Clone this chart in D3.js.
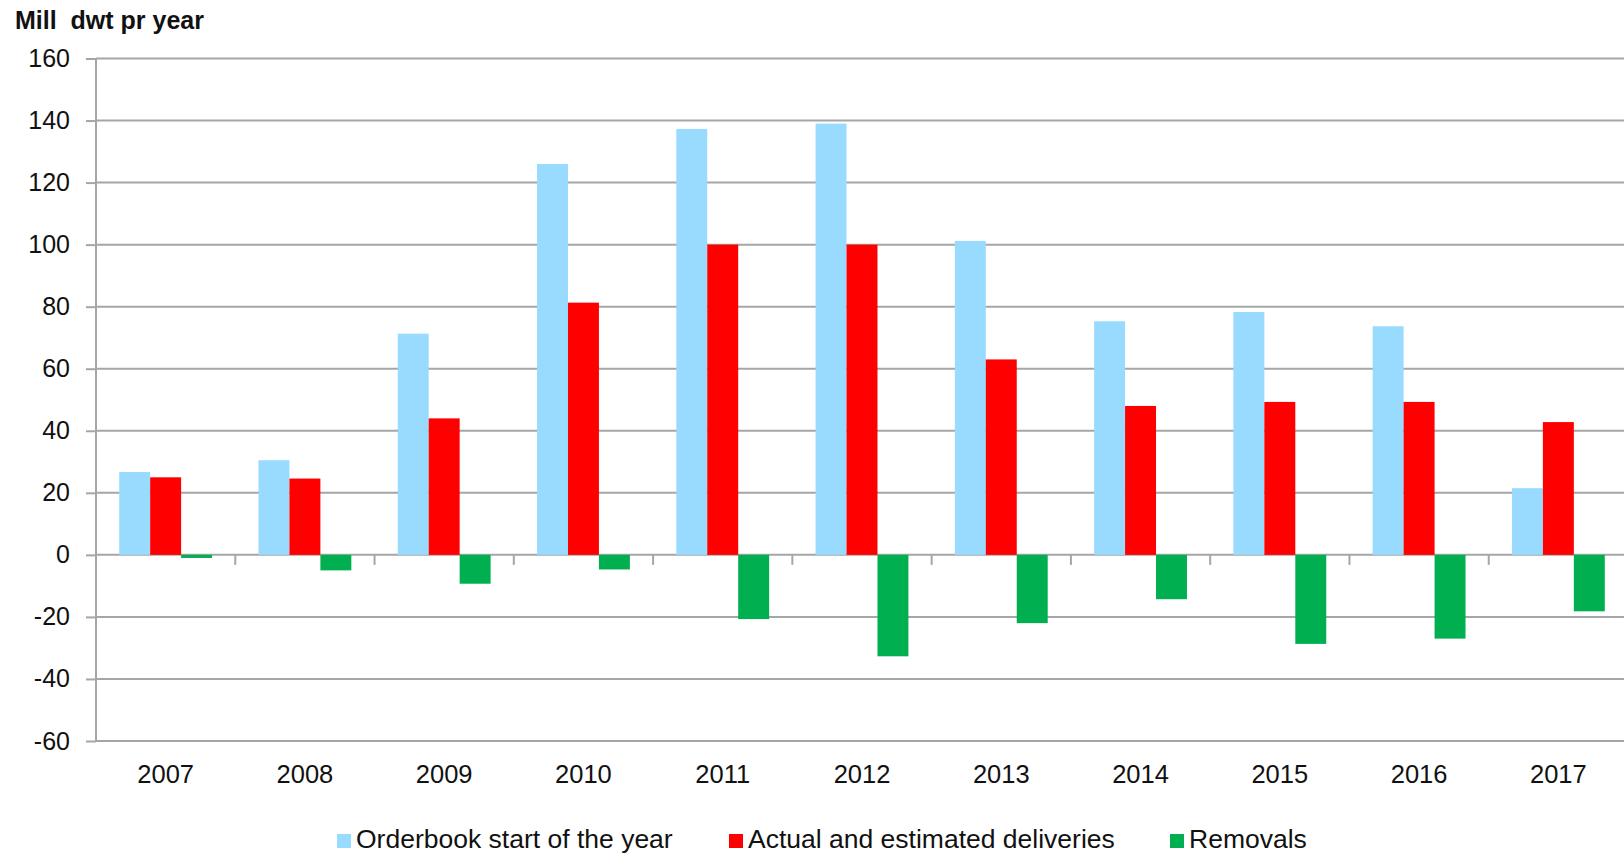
<!DOCTYPE html>
<html>
<head>
<meta charset="utf-8">
<script src="https://cdn.jsdelivr.net/npm/d3@7/dist/d3.min.js"></script>
<style>
  html, body { margin: 0; padding: 0; background: #fff; }
  svg { display: block; font-family: "Liberation Sans", Arial, sans-serif; }
</style>
</head>
<body>
<svg id="chart" width="1624" height="854"></svg>
<script>
// Newbuilding orderbook, deliveries and removals (million dwt per year)
const years = ["2007", "2008", "2009", "2010", "2011", "2012", "2013", "2014", "2015", "2016", "2017"];
const orderbook = [26.7, 30.5, 71.3, 126, 137.3, 139, 101.2, 75.3, 78.3, 73.7, 21.5];
const deliveries = [25, 24.6, 44, 81.3, 100, 100, 63, 48, 49.3, 49.3, 42.8];
const removals = [-1, -5, -9.3, -4.7, -20.7, -32.7, -22, -14.3, -28.7, -27, -18.2];
const seriesNames = ["Orderbook start of the year", "Actual and estimated deliveries", "Removals"];
const seriesColors = ["#99DBFF", "#FF0000", "#00B050"];
const yTicks = [-60, -40, -20, 0, 20, 40, 60, 80, 100, 120, 140, 160];

const seriesValues = [orderbook, deliveries, removals];

const svg = d3.select("#chart");
const margin = { left: 96, top: 58.5, bottom: 741 };
const plotRight = 1628;

const x = d3.scaleBand().domain(years).range([margin.left, plotRight]).paddingInner(0).paddingOuter(0);
const y = d3.scaleLinear().domain([-60, 160]).range([margin.bottom, margin.top]);

const step = x.bandwidth();
const barW = step / 4.5;
const groupOffset = (step - 3 * barW) / 2;
const xs = d3.scaleBand().domain(d3.range(3)).range([groupOffset, groupOffset + 3 * barW]);

const gridColor = "#a6a6a6";

// horizontal gridlines with left tick marks (plain hyphen for negatives)
const yAxis = d3.axisLeft(y).tickValues(yTicks).tickSize(10).tickPadding(16).tickFormat(d => String(d));
const gy = svg.append("g").attr("transform", `translate(${margin.left},0)`).call(yAxis);
gy.select(".domain").remove();
gy.selectAll(".tick line").attr("stroke", gridColor).attr("stroke-width", 2);
gy.selectAll(".tick text").attr("fill", "#111").style("font-size", "25px")
  .style("font-family", "'Liberation Sans', Arial, sans-serif");

svg.append("g").selectAll("line").data(yTicks).join("line")
  .attr("x1", margin.left).attr("x2", 1624)
  .attr("y1", d => y(d)).attr("y2", d => y(d))
  .attr("stroke", gridColor).attr("stroke-width", 2);

// bars
const groups = svg.append("g").selectAll("g").data(years).join("g")
  .attr("transform", d => `translate(${x(d)},0)`);
groups.selectAll("rect")
  .data((d, i) => seriesValues.map((vals, s) => ({ s, v: vals[i] })))
  .join("rect")
  .attr("x", d => xs(d.s))
  .attr("width", xs.bandwidth())
  .attr("y", d => y(Math.max(0, d.v)))
  .attr("height", d => Math.abs(y(d.v) - y(0)))
  .attr("fill", d => seriesColors[d.s]);

// left axis line
svg.append("line")
  .attr("x1", margin.left).attr("x2", margin.left)
  .attr("y1", y(160)).attr("y2", y(-60))
  .attr("stroke", gridColor).attr("stroke-width", 2);

// category tick marks between years, hanging below the zero line
svg.append("g").selectAll("line").data(years.slice(1)).join("line")
  .attr("x1", d => x(d)).attr("x2", d => x(d))
  .attr("y1", y(0)).attr("y2", y(0) + 10)
  .attr("stroke", gridColor).attr("stroke-width", 2);

// year labels below the plot
svg.append("g").selectAll("text").data(years).join("text")
  .attr("x", d => x(d) + step / 2)
  .attr("y", 783)
  .attr("text-anchor", "middle")
  .attr("fill", "#111")
  .style("font-size", "25.5px")
  .text(d => d);

// axis title
svg.append("text")
  .attr("x", 15).attr("y", 29)
  .attr("fill", "#111")
  .style("font-size", "25px").style("font-weight", "bold")
  .text("Mill\u00a0 dwt pr year");

// legend
const legendX = [337, 729, 1170];
const lg = svg.append("g").selectAll("g").data(seriesNames).join("g")
  .attr("transform", (d, i) => `translate(${legendX[i]},0)`);
lg.append("rect").attr("x", 0).attr("y", 834).attr("width", 14).attr("height", 14)
  .attr("fill", (d, i) => seriesColors[i]);
lg.append("text").attr("x", 19).attr("y", 848)
  .attr("fill", "#111").style("font-size", "26.5px")
  .text(d => d);
</script>
</body>
</html>
